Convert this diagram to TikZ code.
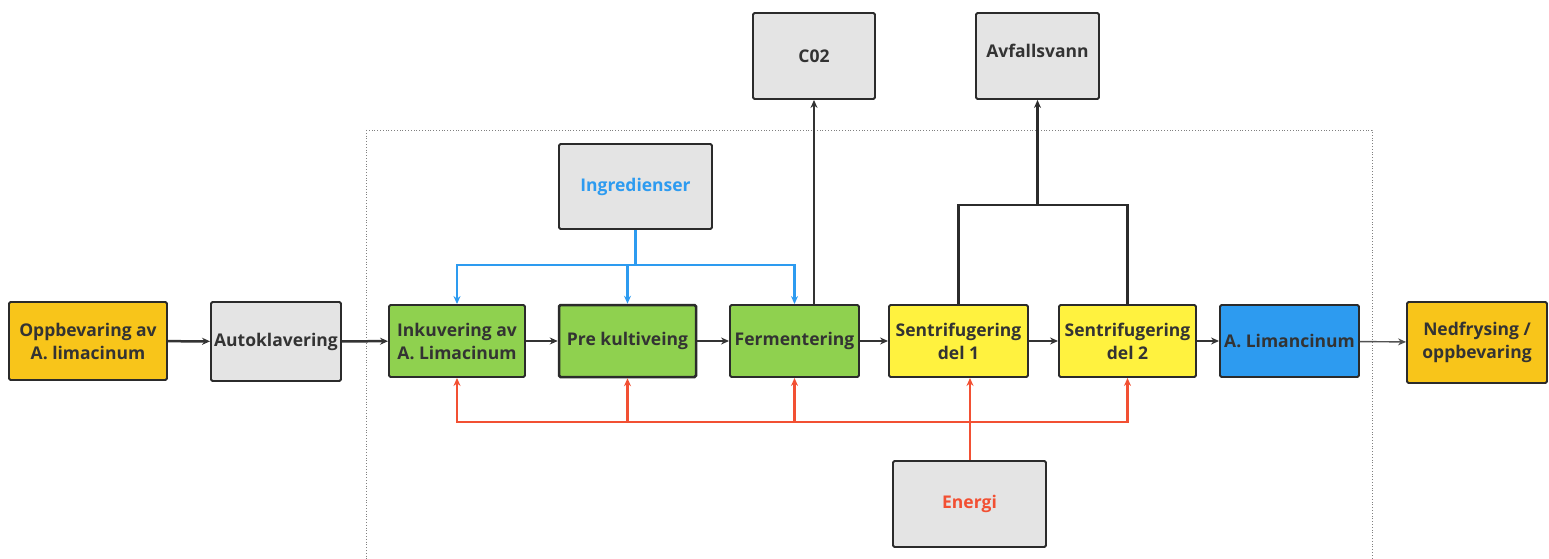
\documentclass[tikz,border=0pt]{standalone}
\usepackage{fontspec}
\setmainfont{Open Sans}
\usetikzlibrary{arrows.meta}
\definecolor{gbox}{HTML}{E4E4E4}
\definecolor{ybox}{HTML}{F8C51A}
\definecolor{grn}{HTML}{8FD14F}
\definecolor{yel}{HTML}{FFF23F}
\definecolor{blu}{HTML}{2D9BF0}
\definecolor{redl}{HTML}{F25033}
\definecolor{txt}{HTML}{333333}
\definecolor{edge}{HTML}{2B2B2B}
\tikzset{
  box/.style={draw=edge, line width=1.9pt, rounded corners=1.5pt, align=center,
    font=\bfseries\fontsize{17.5}{23}\selectfont, text=txt, inner sep=0pt},
  arr/.style={-{Stealth[length=8pt,width=7pt]}, line width=2.5pt, draw=txt},
  barr/.style={-{Stealth[length=8pt,width=7pt]}, line width=2.5pt, draw=blu},
  rarr/.style={-{Stealth[length=8pt,width=7pt]}, line width=2.5pt, draw=redl},
}
\begin{document}
\begin{tikzpicture}[x=1pt,y=-1pt]
\useasboundingbox (0,0) rectangle (1549,559);
\clip (0,0) rectangle (1549,559);
% dotted frame
\draw[gray, dotted, line width=0.8pt] (366,130) rectangle (1372,600);
% nodes
\node[box, fill=ybox, minimum width=158pt, minimum height=78pt] (opp) at (88,341) {Oppbevaring av\\A. limacinum};
\node[box, fill=gbox, minimum width=130pt, minimum height=79pt] (aut) at (276,341.5) {Autoklavering};
\node[box, fill=grn, minimum width=136pt, minimum height=72pt] (ink) at (457,341) {Inkuvering av\\A. Limacinum};
\node[box, fill=grn, line width=2.5pt, minimum width=137pt, minimum height=72pt] (pre) at (627.5,341) {Pre kultiveing};
\node[box, fill=grn, minimum width=129pt, minimum height=72pt] (fer) at (794.5,341) {Fermentering};
\node[box, fill=yel, minimum width=139pt, minimum height=72pt] (s1) at (958.5,341) {Sentrifugering\\del 1};
\node[box, fill=yel, minimum width=137pt, minimum height=72pt] (s2) at (1127.5,341) {Sentrifugering\\del 2};
\node[box, fill=blu, minimum width=139pt, minimum height=72pt] (lim) at (1289.5,341) {A. Limancinum};
\node[box, fill=ybox, minimum width=140pt, minimum height=81pt] (ned) at (1477,342.5) {Nedfrysing /\\oppbevaring};
\node[box, fill=gbox, minimum width=122pt, minimum height=86pt] (co) at (814,56) {C02};
\node[box, fill=gbox, minimum width=123pt, minimum height=86pt, text depth=10pt] (avf) at (1037.5,56) {Avfallsvann};
\node[box, fill=gbox, minimum width=153pt, minimum height=85pt, text=blu] (ing) at (635.5,186.5) {Ingredienser};
\node[box, fill=gbox, minimum width=153pt, minimum height=86pt, text=redl] (ene) at (969.5,504) {Energi};
% coordinates
\coordinate (ib) at (635.5,265);
\coordinate (er) at (970,422);
\coordinate (aj) at (1037.5,205);
% main flow
\draw[arr] (opp) -- (aut);
\draw[arr] (aut) -- (ink);
\draw[arr] (ink) -- (pre);
\draw[arr] (pre) -- (fer);
\draw[arr] (fer) -- (s1);
\draw[arr] (s1) -- (s2);
\draw[arr] (s2) -- (lim);
\draw[-{Stealth[length=8pt,width=7pt]}, line width=1.4pt, draw=txt!85] (lim) -- (ned);
% outputs
\draw[arr] (fer.north -| co.south) -- (co.south);
\draw[line width=2.5pt, draw=edge] (s1.north) |- (aj) -| (s2.north);
\draw[arr, draw=edge] (aj) -- (avf.south);
% ingredients
\draw[line width=2.5pt, draw=blu] (ing.south) -- (ib);
\draw[barr] (ib) -| (ink.north);
\draw[barr] (ib) -| (fer.north);
\draw[barr] (ib) -| (pre.north);
% energy
\draw[line width=2.5pt, draw=redl] (ene.north -| er) -- (er);
\draw[rarr] (er) -| (ink.south);
\draw[rarr] (er) -| (pre.south);
\draw[rarr] (er) -| (fer.south);
\draw[rarr] (er) -- (s1.south -| er);
\draw[rarr] (er) -| (s2.south);
\end{tikzpicture}
\end{document}
